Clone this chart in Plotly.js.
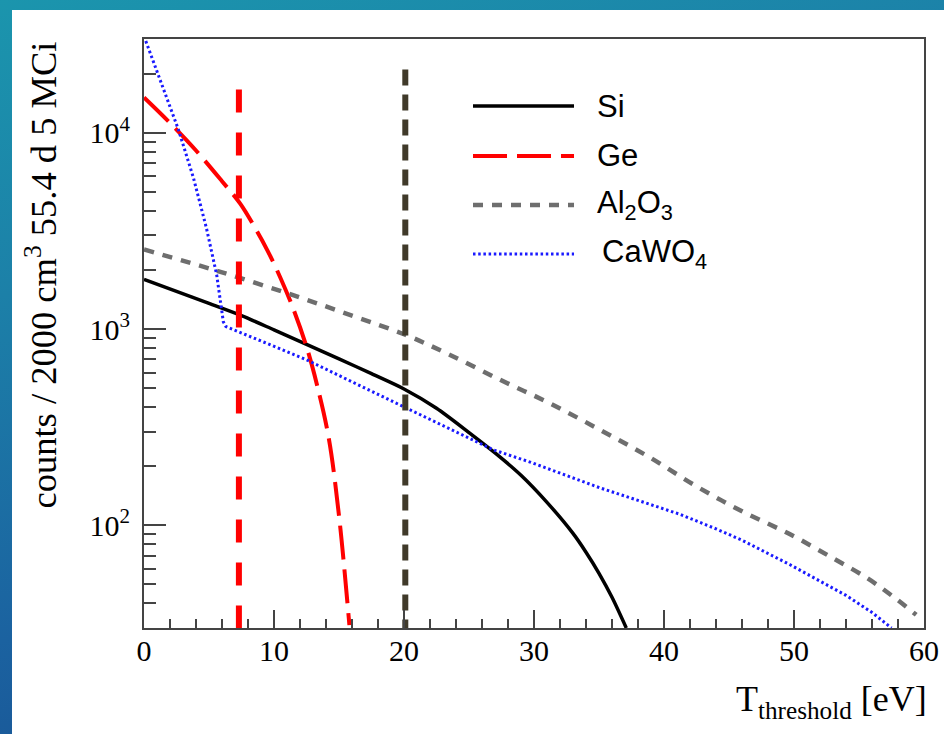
<!DOCTYPE html>
<html>
<head>
<meta charset="utf-8">
<script src="https://cdn.plot.ly/plotly-3.0.1.min.js"></script>
<style>
  html, body { margin:0; padding:0; }
  body { width:944px; height:734px; overflow:hidden; position:relative;
         background: linear-gradient(165deg, #1b95ad 0%, #1c80a8 30%, #1b62a0 65%, #17498c 100%); }
  #plot { position:absolute; left:12px; top:10px; width:932px; height:724px; background:#ffffff; }
</style>
</head>
<body>
<div id="plot"></div>
<script>
// ---- data ----
const siEnergy   = [0, 2.5, 5, 7.5, 10, 12.5, 15, 17.5, 20, 22.5, 25, 27, 29, 31, 33, 34, 35, 36, 37.1];
const siCounts   = [1790, 1555, 1350, 1170, 990, 835, 705, 592, 495, 395, 297, 234, 180, 131, 91, 73, 57, 43, 30];

const geEnergy   = [0, 2, 4, 6, 7.4, 8.5, 9.5, 10.5, 11.5, 12.5, 13.3, 14.2, 15, 15.8];
const geCounts   = [15100, 11200, 8110, 5660, 4350, 3310, 2510, 1820, 1260, 813, 522, 281, 112, 31];

const alEnergy   = [0, 5.6, 11.3, 16, 20.1, 23.5, 27.4, 31.2, 35.1, 38.9, 42.5, 46, 49.7, 53, 55.6, 57.5, 59.4];
const alCounts   = [2540, 1980, 1500, 1170, 935, 740, 551, 419, 306, 222, 158, 118, 90, 68, 54, 44, 35];

const caEnergy   = [0, 2.64, 3.8, 4.8, 5.59, 6.1, 6.3, 12.5, 20.2, 26.9, 29.7, 35.1, 38, 41.2, 44, 46, 49.7, 52, 54, 56, 57.5];
const caCounts   = [31000, 10400, 5900, 3270, 1890, 1090, 1030, 697, 395, 242, 210, 155, 134, 114, 96, 84, 63, 52, 44, 36, 30];

const thresholdEnergy = [7.3, 20.1];          // vertical threshold markers
const thresholdTop    = [16600, 21000];
const thresholdBottom = 30;

const xTickVals  = [0, 10, 20, 30, 40, 50, 60];
const yTickVals  = [100, 1000, 10000];
const yTickText  = ['10<sup>2</sup>', '10<sup>3</sup>', '10<sup>4</sup>'];
const yMinorVals = [40,50,60,70,80,90, 200,300,400,500,600,700,800,900,
                    2000,3000,4000,5000,6000,7000,8000,9000, 20000];

const seriesNames = ['Si', 'Ge', 'Al<sub>2</sub>O<sub>3</sub>', 'CaWO<sub>4</sub>'];

// ---- styles ----
const serif = 'Liberation Serif, Times New Roman, Times, serif';
const sans  = 'Liberation Sans, Arial, Helvetica, sans-serif';
const styles = [
  {color:'#000000', width:3.5, dash:'solid'},
  {color:'#ff0000', width:4,   dash:'34px,10px'},
  {color:'#6e6e6e', width:4.5, dash:'10px,9px'},
  {color:'#1a1aff', width:3,   dash:'2.5px,2.7px'}
];

const traces = [
  {x: siEnergy, y: siCounts, mode:'lines', name: seriesNames[0], line: Object.assign({shape:'spline', smoothing:0.8}, styles[0])},
  {x: geEnergy, y: geCounts, mode:'lines', name: seriesNames[1], line: Object.assign({shape:'spline', smoothing:1}, styles[1])},
  {x: alEnergy, y: alCounts, mode:'lines', name: seriesNames[2], line: Object.assign({shape:'spline', smoothing:1}, styles[2])},
  {x: caEnergy, y: caCounts, mode:'lines', name: seriesNames[3], line: Object.assign({shape:'linear'}, styles[3])},
  {x: [thresholdEnergy[0], thresholdEnergy[0]], y: [thresholdTop[0], thresholdBottom], mode:'lines',
   line:{color:'#ff0000', width:6, dash:'23px,20px'}, hoverinfo:'skip'},
  {x: [thresholdEnergy[1], thresholdEnergy[1]], y: [thresholdTop[1], thresholdBottom], mode:'lines',
   line:{color:'#403a2a', width:6, dash:'16px,9px'}, hoverinfo:'skip'}
];

// ---- manual legend (long line samples like the original) ----
const legendY  = [0.8862, 0.8014, 0.7182, 0.635];
const legendTx = [0.578, 0.578, 0.578, 0.584];
const shapes = [];
const annotations = [];
for (let i = 0; i < seriesNames.length; i++) {
  shapes.push({type:'line', xref:'paper', yref:'paper', x0:0.4218, x1:0.5513, y0:legendY[i], y1:legendY[i],
               line:{color:styles[i].color, width:styles[i].width, dash:styles[i].dash}});
  annotations.push({xref:'paper', yref:'paper', x:legendTx[i], y:legendY[i], xanchor:'left', yanchor:'middle',
                    text:seriesNames[i], showarrow:false, font:{family:sans, size:31, color:'#000'}});
}
// axis titles
annotations.push({xref:'paper', yref:'paper', x:-0.1333, y:0.9983, xanchor:'center', yanchor:'top', textangle:-90,
                  text:'counts / 2000 cm<sup>3</sup> 55.4 d 5 MCi', showarrow:false,
                  font:{family:serif, size:36.5, color:'#000'}});
annotations.push({xref:'paper', yref:'paper', x:1.006, y:-0.125, xanchor:'right', yanchor:'middle',
                  text:'T<sub>threshold</sub> [eV]', showarrow:false,
                  font:{family:serif, size:36, color:'#000'}});

const layout = {
  width:932, height:724, autosize:false,
  margin:{l:132, r:20, t:29, b:106, pad:0},
  paper_bgcolor:'#ffffff', plot_bgcolor:'#ffffff',
  font:{family:serif, size:30, color:'#000'},
  showlegend:false,
  xaxis:{
    range:[0, 60], tickmode:'array', tickvals:xTickVals,
    ticks:'inside', ticklen:18, tickwidth:2, tickcolor:'#444',
    minor:{dtick:2, tick0:0, ticks:'inside', ticklen:9, tickwidth:2, tickcolor:'#444'},
    showline:true, linecolor:'#444', linewidth:2, mirror:true,
    showgrid:false, zeroline:false,
    tickfont:{family:serif, size:30, color:'#000'}, ticklabelstandoff:-5
  },
  yaxis:{
    type:'log', range:[Math.log10(30), Math.log10(30000)],
    tickmode:'array', tickvals:yTickVals, ticktext:yTickText,
    ticks:'inside', ticklen:22, tickwidth:2, tickcolor:'#444',
    minor:{tickmode:'array', tickvals:yMinorVals, ticks:'inside', ticklen:12, tickwidth:2, tickcolor:'#444'},
    showline:true, linecolor:'#444', linewidth:2, mirror:true,
    showgrid:false, zeroline:false,
    tickfont:{family:serif, size:30, color:'#000'}, ticklabelstandoff:6
  },
  shapes: shapes,
  annotations: annotations
};

Plotly.newPlot('plot', traces, layout, {staticPlot:true, displayModeBar:false});
</script>
</body>
</html>
